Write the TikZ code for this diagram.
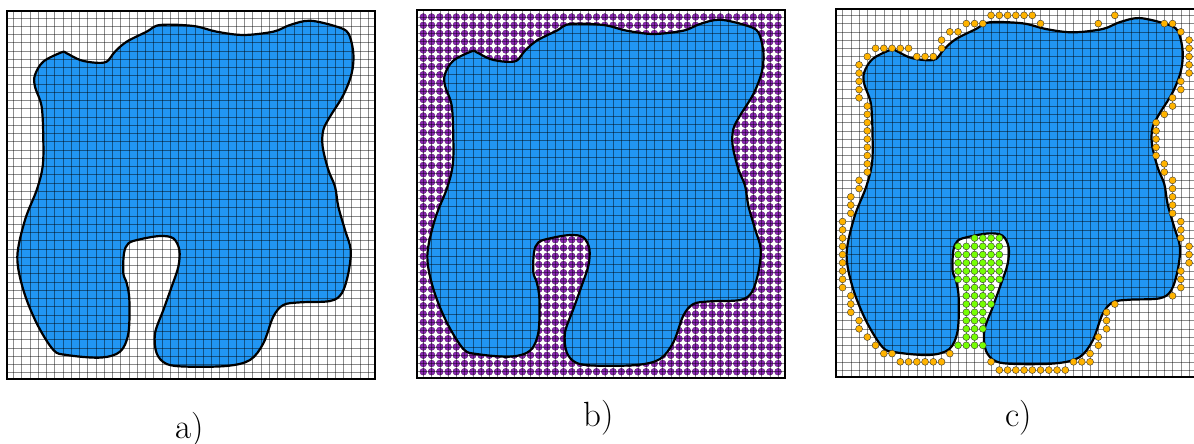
\documentclass[tikz,border=0pt]{standalone}
\usepackage{tikz}
\definecolor{blobblue}{HTML}{2196F3}
\definecolor{plum}{HTML}{8A26B2}
\definecolor{amber}{HTML}{FFB300}
\definecolor{lime}{HTML}{76FF03}
\newcommand\blobshape{plot[smooth cycle, tension=0.55] coordinates {
  (6.67,39.64) (4.44,38.51) (3.43,36.89) (3.43,35.47) (4.24,33.05) (4.44,29.01)
  (4.36,25.78) (3.64,22.95) (2.22,19.31) (1.29,14.87) (2.02,10.83) (3.64,6.79)
  (5.66,3.56) (7.27,2.95) (11.31,2.63) (13.74,3.35) (14.75,5.58) (14.87,9.62)
  (14.55,11.64) (14.14,12.85) (14.22,15.27) (14.75,16.48) (16.16,16.97) (18.59,17.37)
  (20.20,17.09) (20.93,15.68) (20.81,13.66) (20.00,11.23) (18.99,8.40) (17.98,5.58)
  (18.18,3.15) (19.39,1.86) (21.82,1.54) (26.67,1.62) (29.49,2.34) (31.11,4.36)
  (32.32,7.60) (33.54,9.01) (35.56,9.33) (39.19,9.49) (40.61,10.42) (41.41,12.85)
  (41.70,15.68) (41.01,18.10) (40.20,20.93) (39.80,23.35) (38.99,25.37) (38.30,28.20)
  (38.38,30.22) (39.19,31.84) (40.81,34.46) (41.82,37.09) (42.02,39.52) (41.41,41.94)
  (40.00,42.75) (36.77,43.47) (34.34,42.95) (32.32,42.14) (28.69,41.74) (25.45,42.14)
  (22.63,42.83) (18.59,42.95) (16.97,42.14) (14.55,40.93) (13.13,39.72) (12.12,38.51)
  (10.71,38.38) (8.89,38.71) (7.27,39.52)}}

\begin{document}
\begin{tikzpicture}[x=8.25pt, y=8.25pt]
  \tikzset{
    cellgrid/.style={draw=black, draw opacity=0.45, line width=0.5pt},
    frame/.style={draw=black, line width=2pt},
    region/.style={fill=blobblue},
    outline/.style={draw=black, line width=2.2pt, line join=round},
    freept/.style={fill=plum, draw=plum!55!black, line width=0.3pt},
    boundpt/.style={fill=amber, draw=black!80, line width=0.4pt},
    holept/.style={fill=lime, draw=black!80, line width=0.4pt},
    caption/.style={anchor=base, inner sep=0pt, font=\fontsize{35}{40}\selectfont}
  }
  \useasboundingbox (0,0) rectangle (144.73,53.70);
  \clip (0,0) rectangle (144.73,53.70);

  % a) region on the cell grid
  \begin{scope}[shift={(0.81,7.72)}]
    \fill[region] \blobshape;
    \foreach \k in {0,...,43} {
      \draw[cellgrid] (0.8+\k,0) -- (0.8+\k,44.6);
      \draw[cellgrid] (0,0.8+\k) -- (44.6,0.8+\k);
    }
    \draw[outline] \blobshape;
    \draw[frame] (0,0) rectangle (44.6,44.6);
  \end{scope}

  % b) every free grid point
  \begin{scope}[shift={(50.51,7.84)}]
    \foreach \i in {0,...,43}
      \foreach \j in {0,...,43}
        \filldraw[freept] (0.8+\i,0.8+\j) circle (0.42);
    \fill[region] \blobshape;
    \foreach \k in {0,...,43} {
      \draw[cellgrid] (0.8+\k,0) -- (0.8+\k,44.6);
      \draw[cellgrid] (0,0.8+\k) -- (44.6,0.8+\k);
    }
    \draw[outline] \blobshape;
    \draw[frame] (0,0) rectangle (44.6,44.6);
  \end{scope}

  % c) outer boundary points and points in the slot
  \begin{scope}[shift={(101.33,8.04)}]
    \fill[region] \blobshape;
    \foreach \k in {0,...,43} {
      \draw[cellgrid] (0.8+\k,0) -- (0.8+\k,44.6);
      \draw[cellgrid] (0,0.8+\k) -- (44.6,0.8+\k);
    }
    \draw[outline] \blobshape;
    \foreach \j/\row in {43/{18,...,23,33,...,38}, 42/{15,16,17,24,...,32,39,40},
        41/{13,14,41}, 40/{12,42}, 39/{4,...,8,12,42}, 38/{3,9,10,11,42},
        37/{2,42}, 36/{2,42}, 35/{2,41}, 34/{2,41}, 33/{2,40}, 32/{3,40},
        31/{3,39}, 30/{3,38}, 29/{3,38}, 28/{3,38}, 27/{3,38}, 26/{3,38},
        25/{3,39}, 24/{3,39}, 23/{2,40}, 22/{2,40}, 21/{1,40}, 20/{1,40},
        19/{1,40}, 18/{0,41}, 17/{0,41}, 16/{0,41}, 15/{0,42}, 14/{0,42},
        13/{0,42}, 12/{0,41}, 11/{0,41}, 10/{0,41}, 9/{1,40}, 8/{1,33,...,40},
        7/{1,32}, 6/{2,32}, 5/{2,32}, 4/{3,31}, 3/{4,31}, 2/{5,6,13,...,17,30},
        1/{7,...,12,18,28,29,30}, 0/{19,...,27}}
      \foreach \i in \row
        \filldraw[boundpt] (0.8+\i,0.8+\j) circle (0.42);
    \foreach \j/\row in {16/{16,...,19}, 15/{14,...,19}, 14/{14,...,19},
        13/{14,...,19}, 12/{14,...,19}, 11/{14,...,19}, 10/{15,...,18},
        9/{15,...,18}, 8/{15,...,18}, 7/{15,16,17}, 6/{15,16,17},
        5/{15,16,17}, 4/{15,16}, 3/{14,...,17}}
      \foreach \i in \row
        \filldraw[holept] (0.8+\i,0.8+\j) circle (0.42);
    \draw[frame] (0,0) rectangle (44.6,44.6);
  \end{scope}

  \node[caption] (capa) at (23.0,0.6) {a)};
  \node[caption] (capb) at (72.6,2.06) {b)};
  \node[caption] (capc) at (123.5,2.06) {c)};
\end{tikzpicture}
\end{document}
